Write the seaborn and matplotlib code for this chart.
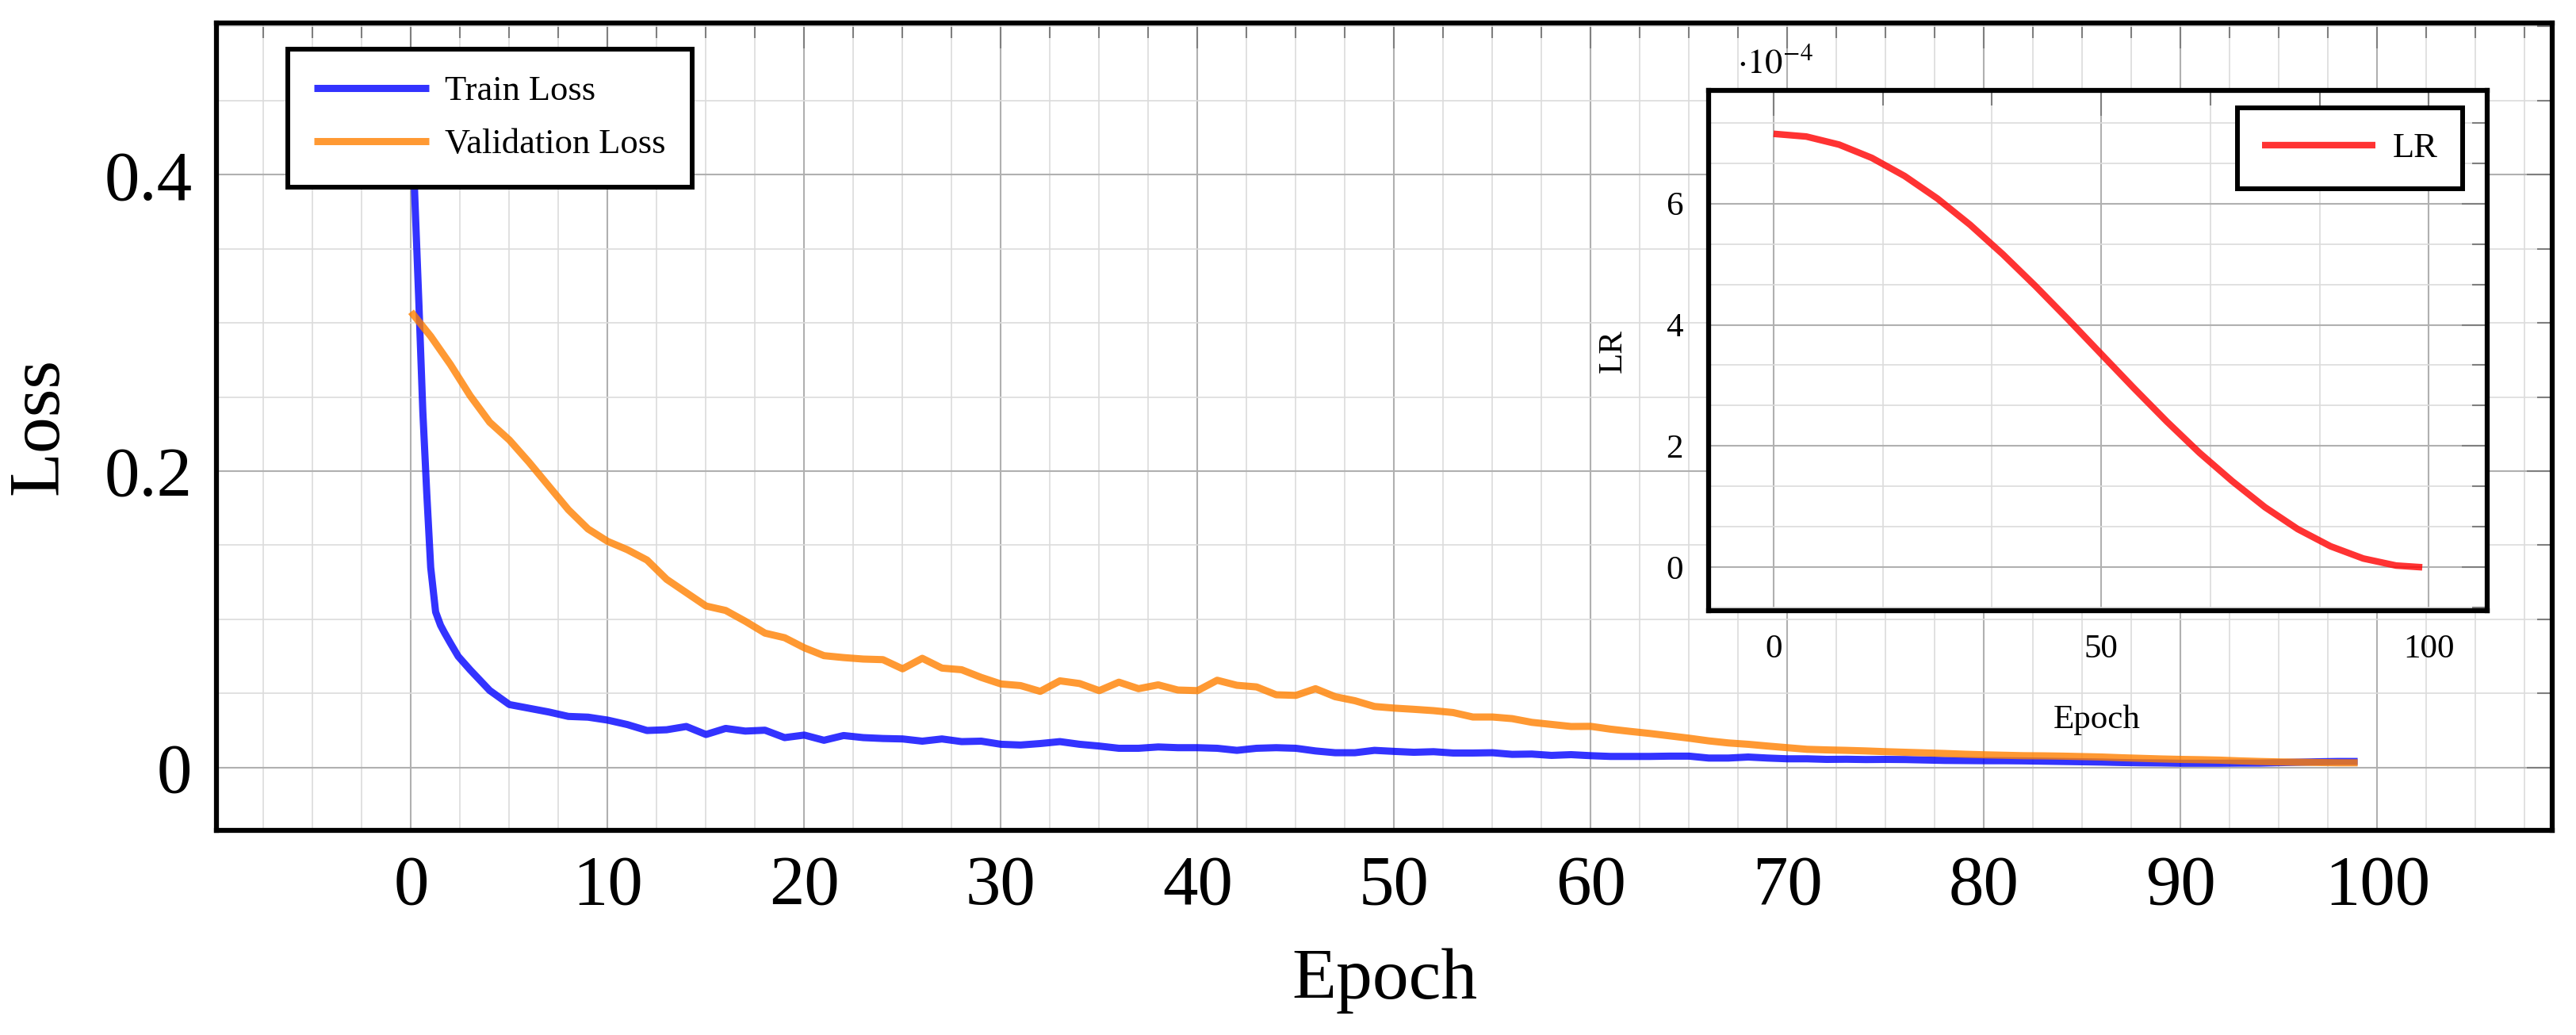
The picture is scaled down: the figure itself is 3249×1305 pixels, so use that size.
import numpy as np
import pandas as pd
import matplotlib
matplotlib.use('Agg')
import matplotlib.pyplot as plt
from matplotlib.ticker import MultipleLocator, FuncFormatter
import seaborn as sns

# values
train_epoch = [0, 0.2, 0.4, 0.6, 0.8, 1.0, 1.25, 1.5, 1.7, 2, 2.4, 3, 4, 5, 6, 7, 8, 9] + list(range(10, 100))
train_loss = [0.455, 0.382, 0.313, 0.240, 0.185, 0.135, 0.105, 0.096, 0.091, 0.084, 0.075, 0.066, 0.052, 0.0425,
              0.040, 0.0375, 0.0345, 0.034,
              0.032, 0.029, 0.025, 0.0255, 0.0277, 0.0223, 0.0264, 0.0246, 0.0252, 0.0202,
              0.0219, 0.0184, 0.0216, 0.0202, 0.0196, 0.0193, 0.0178, 0.0193, 0.0175, 0.0178,
              0.0157, 0.0152, 0.0162, 0.0175, 0.0157, 0.0145, 0.013, 0.013, 0.0139, 0.0134,
              0.0134, 0.013, 0.0116, 0.013, 0.0134, 0.013, 0.0112, 0.010, 0.010, 0.0116,
              0.0109, 0.0103, 0.0107, 0.0098, 0.0098, 0.010, 0.0089, 0.0091, 0.0082, 0.0087,
              0.008, 0.0075, 0.0075, 0.0075, 0.0077, 0.0077, 0.0064, 0.0064, 0.0071, 0.0064,
              0.0059, 0.0059, 0.0055, 0.0056, 0.0054, 0.0055, 0.0054, 0.0051, 0.0048, 0.0047,
              0.0046, 0.0046, 0.0045, 0.0043, 0.0041, 0.0039, 0.0037, 0.0034, 0.0032, 0.0031,
              0.0029, 0.0029, 0.0029, 0.0030, 0.0030, 0.0033, 0.0036, 0.0039, 0.0041, 0.0041]

val_epoch = list(range(0, 100))
val_loss = [0.3075, 0.291, 0.272, 0.251, 0.233, 0.221, 0.206, 0.190, 0.174, 0.161,
            0.1526, 0.147, 0.140, 0.127, 0.118, 0.109, 0.106, 0.0987, 0.0907, 0.0876,
            0.0808, 0.0755, 0.0742, 0.0732, 0.0728, 0.0666, 0.0737, 0.0671, 0.066, 0.0608,
            0.0564, 0.0553, 0.0514, 0.0585, 0.0567, 0.0519, 0.0576, 0.0532, 0.0558, 0.0523,
            0.0519, 0.0589, 0.0555, 0.0544, 0.0491, 0.0487, 0.0532, 0.0478, 0.0451, 0.0412,
            0.0401, 0.0393, 0.0384, 0.0371, 0.0341, 0.0341, 0.033, 0.0305, 0.0291, 0.0277,
            0.0278, 0.0259, 0.0244, 0.023, 0.0214, 0.0198, 0.018, 0.0166, 0.0157, 0.0145,
            0.0134, 0.0123, 0.0119, 0.0116, 0.0112, 0.0107, 0.0103, 0.0099, 0.0095, 0.009,
            0.0086, 0.0083, 0.008, 0.0079, 0.0077, 0.0074, 0.0071, 0.0066, 0.0062, 0.0058,
            0.0055, 0.0053, 0.005, 0.0045, 0.0041, 0.0038, 0.0036, 0.0034, 0.0032, 0.0032]

lr_epoch = [0, 5, 10, 15, 20, 25, 30, 35, 40, 45, 50, 55, 60, 65, 70, 75, 80, 85, 90, 95, 99]
lr = [7.15e-4, 7.105e-4, 6.972e-4, 6.753e-4, 6.454e-4, 6.083e-4, 5.649e-4, 5.162e-4, 4.636e-4, 4.084e-4,
      3.518e-4, 2.954e-4, 2.406e-4, 1.889e-4, 1.421e-4, 0.991e-4, 0.630e-4, 0.347e-4, 0.145e-4, 0.029e-4, 0.0]

sns.set_style('white')
plt.rcParams['font.family'] = ['Liberation Serif', 'DejaVu Serif']
plt.rcParams['mathtext.fontset'] = 'stix'
plt.rcParams['lines.solid_capstyle'] = 'butt'
plt.rcParams['text.color'] = 'black'
plt.rcParams['axes.labelcolor'] = 'black'

tr = pd.DataFrame({'epoch': train_epoch, 'loss': train_loss})
va = pd.DataFrame({'epoch': val_epoch, 'loss': val_loss})
lrd = pd.DataFrame({'epoch': lr_epoch, 'lr': np.array(lr) / 1e-4})

fig = plt.figure(figsize = (32.49, 13.05), dpi = 100)
ax = fig.add_axes([0.0840, 0.1977, 0.9068, 0.7801])
sns.lineplot(data = tr, x = 'epoch', y = 'loss', ax = ax, color = '#0000ff', alpha = 0.8, lw = 6.5,
             label = 'Train Loss', estimator = None)
sns.lineplot(data = va, x = 'epoch', y = 'loss', ax = ax, color = '#ff8000', alpha = 0.8, lw = 6.5,
             label = 'Validation Loss', estimator = None)

def style(a, fs, xmaj, xmin, ymaj, ymin, xpad, ypad):
    a.set_facecolor('white')
    a.xaxis.set_major_locator(MultipleLocator(xmaj)); a.xaxis.set_minor_locator(MultipleLocator(xmin))
    a.yaxis.set_major_locator(MultipleLocator(ymaj)); a.yaxis.set_minor_locator(MultipleLocator(ymin))
    fmt = FuncFormatter(lambda v, p: '%g' % (0 if abs(v) < 1e-12 else v))
    a.xaxis.set_major_formatter(fmt); a.yaxis.set_major_formatter(fmt)
    a.set_axisbelow(True)
    a.grid(True, which = 'major', color = '#b0b0b0', lw = 1.5)
    a.grid(True, which = 'minor', color = '#dcdcdc', lw = 1.2)
    a.tick_params(which = 'both', direction = 'in', top = True, right = True, color = '#7f7f7f',
                  width = 1.5, labelcolor = 'black')
    a.tick_params(which = 'major', length = 23, labelsize = fs)
    a.tick_params(which = 'minor', length = 14)
    a.tick_params(axis = 'x', which = 'major', pad = xpad)
    a.tick_params(axis = 'y', which = 'major', pad = ypad)
    for s in a.spines.values():
        s.set_linewidth(4.5); s.set_color('black'); s.set_visible(True)

style(ax, 64, 10, 2.5, 0.2, 0.05, 22, 22)
ax.set_xlim(-9.9, 108.9)
ax.set_ylim(-0.0424, 0.5024)
ax.set_xlabel('Epoch', fontsize = 66)
ax.set_ylabel('Loss', fontsize = 66)
ax.xaxis.set_label_coords(0.5, -0.186); ax.xaxis.label.set_va('center')
ax.yaxis.set_label_coords(-0.0757, 0.5); ax.yaxis.label.set_va('center')
leg = ax.legend(loc = 'upper left', bbox_to_anchor = (0.0306, 0.9676), borderaxespad = 0, fontsize = 32,
                handlelength = 3.25, handletextpad = 0.45, labelspacing = 0.6, borderpad = 0.75,
                fancybox = False, framealpha = 1, edgecolor = 'black')
leg.get_frame().set_linewidth(4.3)

ins = fig.add_axes([0.6633, 0.4100, 0.3022, 0.5026])
sns.lineplot(data = lrd, x = 'epoch', y = 'lr', ax = ins, color = '#ff0000', alpha = 0.8, lw = 6,
             label = 'LR', estimator = None)
style(ins, 31, 50, 50 / 3, 2, 2 / 3, 21, 23)
ins.set_xlim(-9.9, 108.9)
ins.set_ylim(-0.715, 7.865)
ins.set_xlabel('Epoch', fontsize = 31)
ins.set_ylabel('LR', fontsize = 31)
ins.xaxis.set_label_coords(0.499, -0.21); ins.xaxis.label.set_va('center')
ins.yaxis.set_label_coords(-0.1227, 0.5); ins.yaxis.label.set_va('center')
leg2 = ins.legend(loc = 'upper right', bbox_to_anchor = (0.9684, 0.9665), borderaxespad = 0, fontsize = 32,
                  handlelength = 3.2, handletextpad = 0.5, borderpad = 0.7,
                  fancybox = False, framealpha = 1, edgecolor = 'black')
leg2.get_frame().set_linewidth(4.3)
fig.text(0.6744, 0.9297, r'$\cdot10^{-4}$', fontsize = 32, ha = 'left', va = 'baseline')

fig.savefig('out.png', dpi = 100)
